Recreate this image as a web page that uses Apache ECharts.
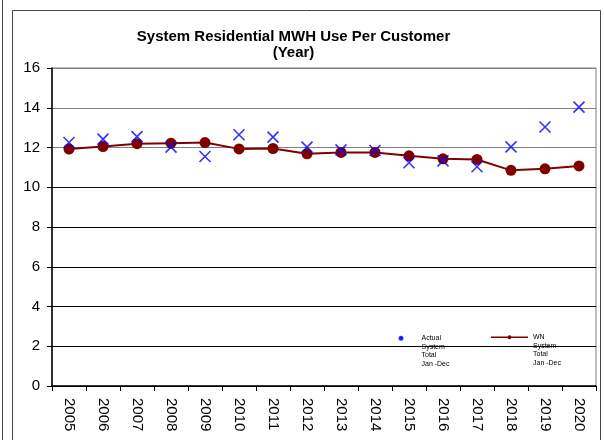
<!DOCTYPE html>
<html>
<head>
<meta charset="utf-8">
<script src="https://cdn.jsdelivr.net/npm/echarts@6/dist/echarts.min.js"></script>
<style>html,body{margin:0;padding:0;background:#fff}#c{width:604px;height:440px}</style>
</head>
<body>
<div id="c"></div>
<script>
const years = ['2005','2006','2007','2008','2009','2010','2011','2012','2013','2014','2015','2016','2017','2018','2019','2020'];
const actual = [12.25, 12.42, 12.55, 12.02, 11.55, 12.64, 12.52, 12.02, 11.88, 11.85, 11.23, 11.33, 11.03, 12.03, 13.03, 14.03];
const wn = [11.92, 12.05, 12.19, 12.22, 12.25, 11.93, 11.95, 11.68, 11.75, 11.75, 11.58, 11.43, 11.4, 10.85, 10.93, 11.07];
const yTicks = [0, 2, 4, 6, 8, 10, 12, 14, 16];
const titleText = 'System Residential MWH Use Per Customer\n(Year)';
const actualName = 'Actual System Total Jan -Dec';
const wnName = 'WN System Total Jan -Dec';

const FONT = '"Liberation Sans", Arial, sans-serif';
const chart = echarts.init(document.getElementById('c'), null, {renderer: 'canvas'});
const legendText = {fontFamily: FONT, fontSize: 7, lineHeight: 8.5, color: '#000'};
chart.setOption({
  animation: false,
  textStyle: {fontFamily: FONT},
  title: {
    text: titleText,
    left: 288.5, top: 24, textAlign: 'center',
    textStyle: {fontFamily: FONT, fontSize: 15, fontWeight: 'bold', color: '#000', lineHeight: 16}
  },
  graphic: [
    {type: 'rect', shape: {x: 12.5, y: 10.5, width: 588, height: 450}, style: {fill: 'none', stroke: '#444', lineWidth: 1}, z: -1},
    {type: 'line', shape: {x1: 2.5, y1: 0, x2: 2.5, y2: 440}, style: {stroke: '#444', lineWidth: 1}, z: -1}
  ],
  legend: [
    {
      data: [{name: actualName, icon: 'path://M0,4.25A1.5,1.5 0 1 1 3,4.25A1.5,1.5 0 1 1 0,4.25Z M17,34L17.01,34Z M0,0L0.01,0Z'}],
      left: 398.5, top: 333, padding: 0, itemWidth: 17, itemHeight: 34, itemGap: 0,
      formatter: () => 'Actual\nSystem\nTotal\nJan -Dec',
      textStyle: legendText, selectedMode: false,
      itemStyle: {color: '#0000ff'}
    },
    {
      data: [{name: wnName, icon: 'path://M0,3.5L37,3.5L37,5L0,5Z M16.5,4.25A2,2 0 1 1 20.5,4.25A2,2 0 1 1 16.5,4.25Z M0,34L0.01,34Z M0,0L0.01,0Z'}],
      left: 491, top: 333, padding: 0, itemWidth: 37, itemHeight: 34, itemGap: 0,
      formatter: () => 'WN\nSystem\nTotal\nJan -Dec',
      textStyle: legendText, selectedMode: false,
      itemStyle: {color: '#800000'}
    }
  ],
  grid: {left: 52, right: 8, top: 68, bottom: 54, show: true, borderColor: '#808080', borderWidth: 1},
  xAxis: {
    type: 'category', data: years, boundaryGap: true,
    axisLine: {lineStyle: {color: '#000', width: 1.5}},
    axisTick: {show: true, inside: false, length: 5, alignWithLabel: false, lineStyle: {color: '#000'}},
    axisLabel: {rotate: -90, margin: 12, fontSize: 15, color: '#000', fontFamily: FONT}
  },
  yAxis: {
    type: 'value', min: yTicks[0], max: yTicks[yTicks.length - 1], interval: 2,
    axisLine: {show: true, lineStyle: {color: '#000', width: 1.5}},
    axisTick: {show: true, inside: false, length: 5, lineStyle: {color: '#000'}},
    axisLabel: {margin: 12, fontSize: 15, color: '#000', fontFamily: FONT},
    splitLine: {show: true, lineStyle: {color: ['#000', '#000', '#000', '#000', '#000', '#111', '#808080', '#808080', '#808080'], width: 1.2}}
  },
  series: [
    {
      name: wnName, type: 'line', data: wn, z: 2,
      symbol: 'circle', symbolSize: 11, showSymbol: true,
      lineStyle: {color: '#800000', width: 2},
      itemStyle: {color: '#800000'}
    },
    {
      name: actualName, type: 'scatter', data: actual, z: 3,
      symbol: 'path://M0,0L10,10M10,0L0,10', symbolSize: 11,
      itemStyle: {color: 'none', borderColor: '#0000ff', borderWidth: 1.6}
    }
  ]
});
</script>
</body>
</html>
